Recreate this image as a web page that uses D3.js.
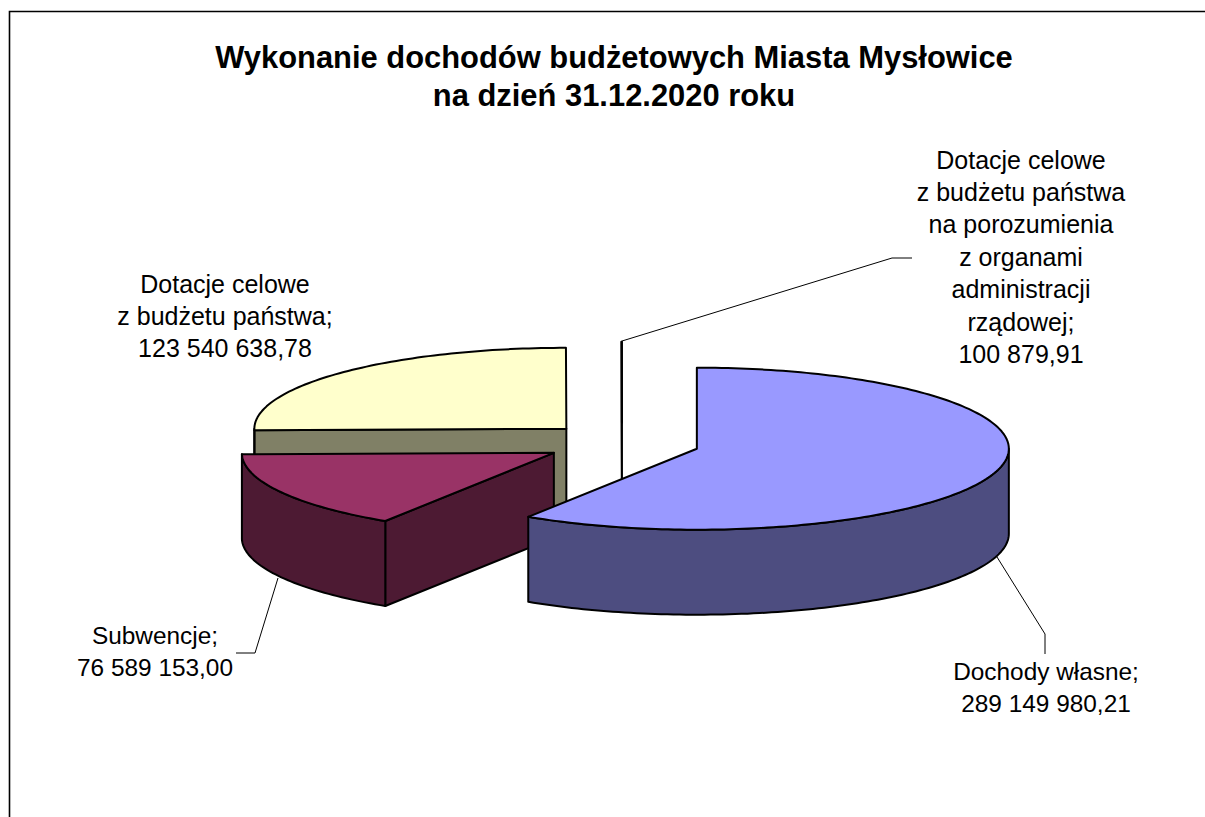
<!DOCTYPE html>
<html><head><meta charset="utf-8">
<script src="https://cdn.jsdelivr.net/npm/d3@7/dist/d3.min.js"></script>
<style>html,body{margin:0;padding:0;background:#fff}svg{display:block}text{font-family:"Liberation Sans",Arial,sans-serif;fill:#000}</style>
</head><body><div id="c"></div>
<script>
const titleLines = ["Wykonanie dochodów budżetowych Miasta Mysłowice","na dzień 31.12.2020 roku"];
const categories = ["Dochody własne","Subwencje","Dotacje celowe z budżetu państwa","Dotacje celowe z budżetu państwa na porozumienia z organami administracji rządowej"];
const values = [289149980.21,76589153.00,123540638.78,100879.91];
const valueLabels = ["289 149 980,21","76 589 153,00","123 540 638,78","100 879,91"];
const topColors = ["#9999FF","#993366","#FFFFCC","#FFFFFF"];
const sideColors = ["#4D4D80","#4D1A33","#808066","#808080"];
const labelLines = [["Dochody własne;"],["Subwencje;"],["Dotacje celowe","z budżetu państwa;"],["Dotacje celowe","z budżetu państwa","na porozumienia","z organami","administracji","rządowej;"]];
const labelPos = [[1046,680],[155,644],[225,292.5],[1021,168.5]];
const labelSize = [24.4,24.4,25,25];
const labelStep = 32.4;
const leaders = [[[997,557],[1045,634],[1045,654]],[[278,578],[255,653],[236,653]],null,[[622,341],[892,258],[912,258]]];

const W=1205,H=817, cx=622, cy=443, rx=312, ry=81, depth=85, explode=78;
const svg=d3.select("#c").append("svg").attr("width",W).attr("height",H);
svg.append("path").attr("d",`M9.5,${H}V11.5H${W}`).attr("fill","none").attr("stroke","#000").attr("stroke-width",1.6);

titleLines.forEach((t,i)=>svg.append("text").attr("x",614).attr("y",68+i*38).attr("text-anchor","middle").attr("font-size",30.9).attr("font-weight","bold").text(t));

const arcs=d3.pie().sort(null).value(d=>d)(values);
const line=d3.line();
const pt=(o,a,dz=0)=>[o[0]+rx*Math.sin(a),o[1]-ry*Math.cos(a)+dz];
const arcPts=(o,a,b,dz)=>{const n=Math.max(2,Math.ceil(Math.abs(b-a)/0.02));return d3.range(n+1).map(i=>pt(o,a+(b-a)*i/n,dz));};
const style=s=>s.attr("stroke","#000").attr("stroke-width",2).attr("stroke-linejoin","round");

// back-to-front: yellow, tiny, subwencje, blue
[2,3,1,0].forEach(i=>{
  const d=arcs[i], mid=(d.startAngle+d.endAngle)/2;
  const o=[cx+explode*Math.sin(mid),cy-explode*ry/rx*Math.cos(mid)];
  const g=svg.append("g");
  const a0=d.startAngle,a1=d.endAngle;
  const face=(a)=>{const p=pt(o,a);
    style(g.append("path").attr("d",line([o,p,[p[0],p[1]+depth],[o[0],o[1]+depth]])+"Z").attr("fill",sideColors[i]));};
  if(Math.sin(a0)<-1e-6) face(a0);
  if(Math.sin(a1)>1e-6) face(a1);
  const s=Math.max(a0,Math.PI/2), e=Math.min(a1,3*Math.PI/2);
  if(e>s){
    const topEdge=arcPts(o,s,e,0), botEdge=arcPts(o,e,s,depth);
    style(g.append("path").attr("d",line(topEdge.concat(botEdge))+"Z").attr("fill",sideColors[i]));
  }
  const top=[o].concat(arcPts(o,a0,a1,0));
  style(g.append("path").attr("d",line(top)+"Z").attr("fill",topColors[i]));
});

leaders.forEach(l=>{ if(l) svg.append("path").attr("d",line(l)).attr("fill","none").attr("stroke","#000").attr("stroke-width",1); });

labelLines.forEach((ls,i)=>{
  ls.concat([valueLabels[i]]).forEach((t,k)=>svg.append("text").attr("x",labelPos[i][0]).attr("y",labelPos[i][1]+k*labelStep).attr("text-anchor","middle").attr("font-size",labelSize[i]).text(t));
});
</script></body></html>
